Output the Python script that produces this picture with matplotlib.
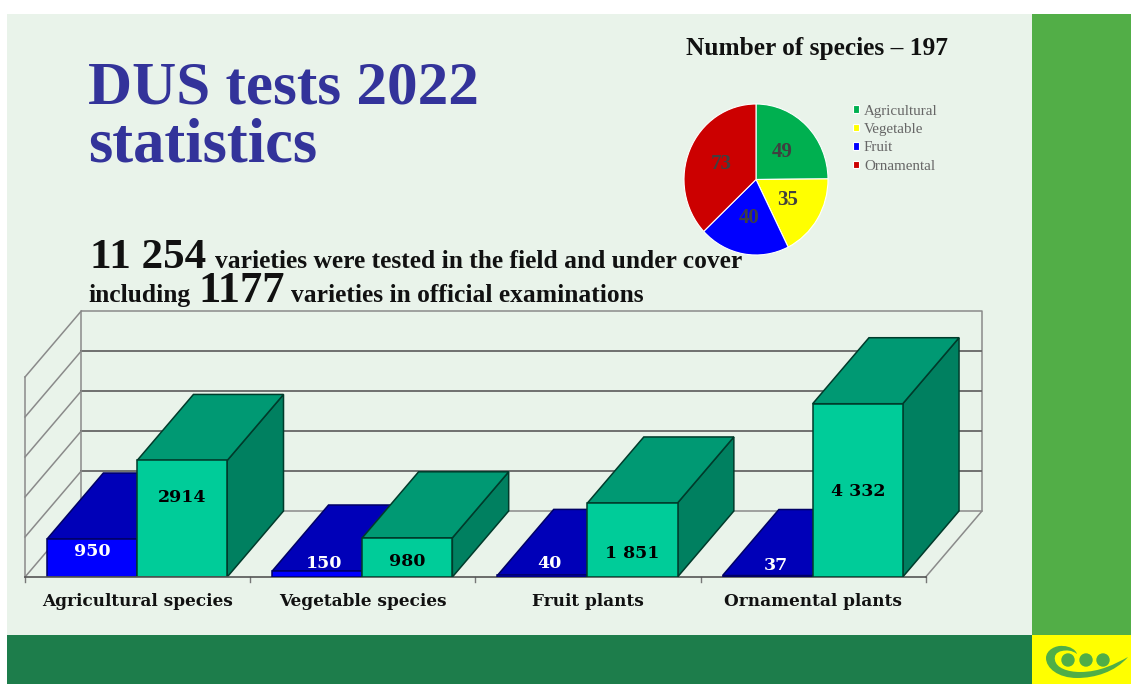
import matplotlib
matplotlib.use('Agg')
import matplotlib.pyplot as plt
from matplotlib.patches import Polygon, Rectangle, Circle, PathPatch
from matplotlib.path import Path

# Data
categories = ['Agricultural species', 'Vegetable species', 'Fruit plants', 'Ornamental plants']
official = [950, 150, 40, 37]
total = [2914, 980, 1851, 4332]
official_labels = ['950', '150', '40', '37']
total_labels = ['2914', '980', '1 851', '4 332']
species_names = ['Agricultural', 'Vegetable', 'Fruit', 'Ornamental']
species_counts = [49, 35, 40, 73]

# Where the value labels sit on the bars
official_label_y = [625, 325, 325, 300]
official_label_dx = [0.003, 0.032, 0.032, 0.036]
total_label_y = [2000, 375, 600, 2125]

W, H = 1131, 684
SERIF = 'Liberation Serif'
WIDE = 'DejaVu Serif'

fig = plt.figure(figsize=(W / 100, H / 100), dpi=100, facecolor='white')


def px_axes(left, top, right, bottom, **kw):
    return fig.add_axes([left / W, 1 - bottom / H, (right - left) / W, (bottom - top) / H], **kw)


# Page background, in pixels
bg = fig.add_axes([0, 0, 1, 1])
bg.set_xlim(0, W)
bg.set_ylim(H, 0)
bg.axis('off')
bg.add_patch(Rectangle((7, 14), 1025, 621, color='#E9F3EA', lw=0))
bg.add_patch(Rectangle((1032, 14), 99, 621, color='#52AE47', lw=0))
bg.add_patch(Rectangle((7, 635), 1025, 49, color='#1D7D4B', lw=0))
bg.add_patch(Rectangle((1032, 635), 99, 49, color='#FFFF00', lw=0))

# Logo
logo_verts = [(1128, 657),
              (1115, 672), (1095, 678), (1077, 678),
              (1058, 678), (1046, 668), (1046, 658),
              (1046, 650), (1056, 645), (1063, 646),
              (1070, 646), (1076, 650), (1077, 654),
              (1072, 650), (1066, 650), (1062, 651),
              (1056, 652), (1054, 656), (1055, 660),
              (1056, 668), (1068, 672), (1080, 672),
              (1100, 672), (1115, 664), (1128, 657)]
logo_codes = [Path.MOVETO] + [Path.CURVE4] * 24
bg.add_patch(PathPatch(Path(logo_verts, logo_codes), color='#4FAE47', lw=0))
for cx in [1068, 1086, 1103]:
    bg.add_patch(Circle((cx, 660), 6.7, color='#4FAE47', lw=0))

# Headings
title_color = '#33339A'
text_color = '#111111'
bg.text(88, 104, 'DUS tests 2022', family=SERIF, weight='bold', size=44, color=title_color)
bg.text(88, 161, 'statistics', family=SERIF, weight='bold', size=45, color=title_color)
bg.text(686, 55, 'Number of species – 197', family=SERIF, weight='bold', size=18.3, color=text_color)
bg.text(90, 268, '11 254', family=SERIF, weight='bold', size=31, color=text_color)
bg.text(215, 268, 'varieties were tested in the field and under cover', family=SERIF, weight='bold',
        size=18.4, color=text_color)
bg.text(88, 302, 'including', family=SERIF, weight='bold', size=18.4, color=text_color)
bg.text(198, 302, '1177', family=SERIF, weight='bold', size=32, color=text_color)
bg.text(291, 302, 'varieties in official examinations', family=SERIF, weight='bold',
        size=18.4, color=text_color)

# Pie
pie_ax = px_axes(684, 104, 828, 255)
wedges, _, autotexts = pie_ax.pie(species_counts, startangle=90, counterclock=False,
                                  colors=['#00B050', '#FFFF00', '#0000FF', '#CC0000'],
                                  wedgeprops={'edgecolor': 'white', 'linewidth': 0.8},
                                  autopct=lambda p: f'{p * sum(species_counts) / 100:.0f}',
                                  pctdistance=0.52, textprops={'family': SERIF, 'weight': 'bold',
                                                               'size': 15, 'color': '#404040'})
pie_ax.set_aspect('auto')
pie_ax.set_xlim(-1, 1)
pie_ax.set_ylim(-1, 1)
leg = fig.legend(wedges, species_names, loc='upper left', bbox_to_anchor=(853 / W, 1 - 104.5 / H),
                 frameon=False, fontsize=10.8, handlelength=0.4, handleheight=0.4,
                 labelspacing=0.36, handletextpad=0.33, borderpad=0, borderaxespad=0)
for t in leg.get_texts():
    t.set_family(SERIF)
    t.set_color('#666666')

# 3D-looking bars: oblique projection onto one axes (x in categories, y in values)
DX = 0.25     # depth along x, in categories
DY = 1650     # depth along y, in value units
n = len(categories)
ax = px_axes(25, 311, 982, 577)
ax.set_xlim(0, n + DX)
ax.set_ylim(0, 5000 + DY)
ax.axis('off')
wall_c = '#8A8A8A'
grid_c = '#666666'

# back wall and left wall
ax.plot([DX, DX, n + DX, n + DX], [DY, 5000 + DY, 5000 + DY, DY], color=wall_c, lw=1.1, zorder=1, clip_on=False)
ax.plot([0, 0], [0, 5000], color=wall_c, lw=1.1, zorder=1, clip_on=False)
for v in range(0, 6000, 1000):
    if 0 < v < 5000:
        ax.plot([DX, n + DX], [v + DY, v + DY], color=grid_c, lw=1.3, zorder=1)
    ax.plot([0, DX], [v, v + DY], color=wall_c, lw=1.1, zorder=1, clip_on=False)
# floor
ax.plot([DX, n + DX, n], [DY, DY, 0], color=wall_c, lw=1.1, zorder=1, clip_on=False)
ax.plot([0, n], [0, 0], color='#555555', lw=1.2, zorder=5, clip_on=False)
for i in range(n + 1):
    ax.plot([i, i], [0, -130], color='#777777', lw=1, clip_on=False, zorder=1)


def bar3d(x0, x1, h, front, top, side, edge, z):
    ax.add_patch(Polygon([(x1, 0), (x1 + DX, DY), (x1 + DX, h + DY), (x1, h)], fc=side, ec=edge, lw=1.1, zorder=z))
    ax.add_patch(Polygon([(x0, h), (x0 + DX, h + DY), (x1 + DX, h + DY), (x1, h)], fc=top, ec=edge, lw=1.1, zorder=z))
    ax.add_patch(Rectangle((x0, 0), x1 - x0, h, fc=front, ec=edge, lw=1.1, zorder=z))


bar_w = 0.4
for i in range(n):
    x0 = i + 0.098
    z = 3 + i * 2
    bar3d(x0, x0 + bar_w, official[i], '#0000FF', '#0000B8', '#000099', '#000066', z)
    bar3d(x0 + bar_w, x0 + 2 * bar_w, total[i], '#00CC99', '#009973', '#008060', '#003B2B', z + 1)
    ax.text(x0 + bar_w / 2 + official_label_dx[i], official_label_y[i], official_labels[i], ha='center', va='center',
            family=WIDE, weight='bold', size=12.5, color='white', zorder=20)
    ax.text(x0 + 1.5 * bar_w, total_label_y[i], total_labels[i], ha='center', va='center', family=WIDE,
            weight='bold', size=12.5, color='black', zorder=20)
    ax.text(i + 0.5, -600, categories[i], ha='center', va='center', family=WIDE, weight='bold',
            size=12.2, color=text_color, clip_on=False)

fig.savefig('out.png', dpi=100)
